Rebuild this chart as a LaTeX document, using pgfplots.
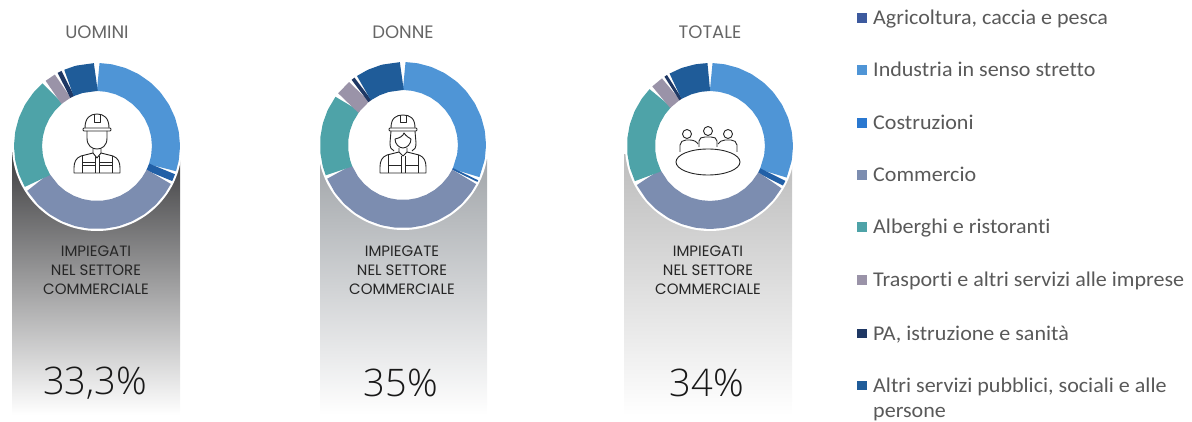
\documentclass[border=0pt]{standalone}
\usepackage{fontspec}
\usepackage{pgfplots}
\usepgfplotslibrary{polar}
\pgfplotsset{compat=1.18}
\setmainfont{Carlito}[FakeStretch=1.05,Ligatures=NoCommon]
\newfontfamily\headfont{Poppins}
\newfontfamily\numfont{Open Sans Light}
\definecolor{cAgri}{HTML}{3D5A9E}
\definecolor{cInd}{HTML}{4F95D6}
\definecolor{cCos}{HTML}{2A78D0}
\definecolor{cCom}{HTML}{7C8DB0}
\definecolor{cAlb}{HTML}{4EA3A8}
\definecolor{cTra}{HTML}{9A93A8}
\definecolor{cPA}{HTML}{1F3864}
\definecolor{cAlt}{HTML}{1F5C99}
\definecolor{gU1}{HTML}{3C3C3E}
\definecolor{gU2}{HTML}{9A9C9F}
\definecolor{gD1}{HTML}{A2A6AA}
\definecolor{gD2}{HTML}{CCD0D4}
\definecolor{gT1}{HTML}{BDBDBD}
\definecolor{gT2}{HTML}{DEDEDE}
\pgfplotsset{donut/.style={scale only axis,width=166pt,height=166pt,xmin=0,xmax=360,ymin=0,ymax=83,
  hide axis,clip=false,anchor=center,x filter/.expression={90-x},
  every axis plot/.append style={no markers,line width=28pt,line join=round,line cap=butt}}}
\begin{document}
\begin{tikzpicture}[x=1pt,y=-1pt]
\path[use as bounding box] (0,0) rectangle (1192,422);
% backgrounds
\fill[top color=gU1,middle color=gU2,bottom color=white] (12,150) rectangle (180,415);
\fill[top color=gD1,middle color=gD2,bottom color=white] (320,160) rectangle (487,415);
\fill[top color=gT1,middle color=gT2,bottom color=white] (624,155) rectangle (792,415);
\fill[white] (97,146) circle (85);
\fill[white] (403,145) circle (85);
\fill[white] (710,146) circle (85);
% UOMINI
\begin{polaraxis}[donut,at={(97pt,-146pt)}]
\addplot[cInd] coordinates {(1,69)(10,69)(20,69)(30,69)(40,69)(50,69)(60,69)(70,69)(80,69)(90,69)(100,69)(108.4,69)};
\addplot[cCos!80!black] coordinates {(109.4,69)(115.5,69)};
\addplot[cCom] coordinates {(116.5,69)(125,69)(135,69)(145,69)(155,69)(165,69)(175,69)(185,69)(195,69)(205,69)(215,69)(225,69)(238.4,69)};
\addplot[cAlb] coordinates {(239.6,69)(250,69)(260,69)(270,69)(280,69)(290,69)(300,69)(310,69)(319.8,69)};
\addplot[cTra] coordinates {(321,69)(330.2,69)};
\addplot[cPA] coordinates {(331.4,69)(335,69)};
\addplot[cAlt] coordinates {(336,69)(345,69)(359,69)};
\end{polaraxis}
% DONNE
\begin{polaraxis}[donut,at={(403pt,-145pt)}]
\addplot[cInd] coordinates {(1,69)(10,69)(20,69)(30,69)(40,69)(50,69)(60,69)(70,69)(80,69)(90,69)(100,69)(114,69)};
\addplot[cCos!80!black] coordinates {(115,69)(116.5,69)};
\addplot[cCom] coordinates {(117.5,69)(125,69)(135,69)(145,69)(155,69)(165,69)(175,69)(185,69)(195,69)(205,69)(215,69)(225,69)(235,69)(247,69)};
\addplot[cAlb] coordinates {(248,69)(255,69)(265,69)(275,69)(285,69)(295,69)(306.5,69)};
\addplot[cTra] coordinates {(307.5,69)(320.5,69)};
\addplot[cPA] coordinates {(321.5,69)(324.5,69)};
\addplot[cAlt] coordinates {(325.5,69)(335,69)(345,69)(359,69)};
\end{polaraxis}
% TOTALE
\begin{polaraxis}[donut,at={(710pt,-146pt)}]
\addplot[cInd] coordinates {(1,69)(10,69)(20,69)(30,69)(40,69)(50,69)(60,69)(70,69)(80,69)(90,69)(100,69)(113.5,69)};
\addplot[cCos!80!black] coordinates {(114.5,69)(118.8,69)};
\addplot[cCom] coordinates {(119.8,69)(130,69)(140,69)(150,69)(160,69)(170,69)(180,69)(190,69)(200,69)(210,69)(220,69)(230,69)(243,69)};
\addplot[cAlb] coordinates {(244,69)(255,69)(265,69)(275,69)(285,69)(295,69)(305,69)(314,69)};
\addplot[cTra] coordinates {(315,69)(325.5,69)};
\addplot[cPA] coordinates {(326.5,69)(329,69)};
\addplot[cAlt] coordinates {(330,69)(340,69)(350,69)(359,69)};
\end{polaraxis}
% icons
\begin{scope}[shift={(97,146)},line width=0.9pt,black!85,line join=round]
\draw (-12,-18) .. controls (-12,-28) and (-7,-32) .. (0,-32) .. controls (7,-32) and (12,-28) .. (12,-18);
\draw[rounded corners=1] (-14,-18) rectangle (14,-15);
\draw (-3,-32) -- (-3,-24) -- (3,-24) -- (3,-32);
\draw (-10,-15) -- (-10,-8) .. controls (-10,0) and (-5,3) .. (0,3) .. controls (5,3) and (10,0) .. (10,-8) -- (10,-15);
\draw (-4,3) -- (-4,7) -- (0,12) -- (4,7) -- (4,3);
\draw (-4,7) -- (-16,10) .. controls (-21,12) and (-23,16) .. (-23,22) -- (-23,27) -- (23,27) -- (23,22) .. controls (23,16) and (21,12) .. (16,10) -- (4,7);
\draw (-15,10) -- (-15,27) (15,10) -- (15,27) (-2,10) -- (-2,27) (2,10) -- (2,27);
\draw (-15,16) -- (-2,16) (-15,19) -- (-2,19) (2,16) -- (15,16) (2,19) -- (15,19);
\end{scope}
\begin{scope}[shift={(403,145)},line width=0.9pt,black!85,line join=round]
\draw (-12,-17) .. controls (-12,-27) and (-7,-30) .. (0,-30) .. controls (7,-30) and (12,-27) .. (12,-17);
\draw[rounded corners=1] (-14,-17) rectangle (14,-14);
\draw (-3,-30) -- (-3,-23) -- (3,-23) -- (3,-30);
\draw (-12,-14) -- (-13,-2) .. controls (-13,2) and (-12,5) .. (-9,6);
\draw (12,-14) -- (13,-2) .. controls (13,2) and (12,5) .. (9,6);
\draw (-8,-6) .. controls (-3,-7) and (0,-9) .. (1,-12) .. controls (3,-9) and (6,-7) .. (8,-6);
\draw (-8,-6) .. controls (-8,-1) and (-4,3) .. (0,3) .. controls (4,3) and (8,-1) .. (8,-6);
\draw (-4,3) -- (-4,7) -- (0,11) -- (4,7) -- (4,3);
\draw (-4,7) -- (-16,10) .. controls (-21,12) and (-23,16) .. (-23,22) -- (-23,28) -- (23,28) -- (23,22) .. controls (23,16) and (21,12) .. (16,10) -- (4,7);
\draw (-15,10) -- (-15,28) (15,10) -- (15,28) (-2,11) -- (-2,28) (2,11) -- (2,28);
\draw (-15,20) -- (-2,20) (2,20) -- (15,20);
\end{scope}
\begin{scope}[shift={(710,146)},line width=0.9pt,black!85,line join=round]
\draw (-23,-12) circle (4.5) (-2,-15) circle (4.5) (18,-12) circle (4.5);
\draw (-11,1) -- (-11,-5) .. controls (-11,-8) and (-8,-9) .. (-5,-9) -- (1,-9) .. controls (4,-9) and (7,-8) .. (7,-5) -- (7,1);
\draw (-30,6) -- (-30,-1) .. controls (-30,-4) and (-27,-6) .. (-24,-6) -- (-20,-6) .. controls (-16,-6) and (-13,-4) .. (-12,-2);
\draw (27,6) -- (27,-1) .. controls (27,-4) and (24,-6) .. (21,-6) -- (15,-6) .. controls (12,-6) and (9,-4) .. (8,-2);
\draw (-2,16) ellipse (32 and 13);
\end{scope}
% heads
\foreach \x/\t in {97/UOMINI,403/DONNE,710/TOTALE}
  \node[text=black!60,font=\headfont\fontsize{18}{20}\selectfont] at (\x,32) {\t};
\foreach \x/\t in {96/IMPIEGATI,402/IMPIEGATE,708/IMPIEGATI}
  \node[text=black!85,align=center,font=\headfont\fontsize{15}{19}\selectfont,anchor=north] at (\x,242) {\t\\NEL SETTORE\\COMMERCIALE};
\foreach \x/\t in {95/{33,3\%},401/{35\%},707/{34\%}}
  \node[text=black!90,font=\numfont\fontsize{38}{40}\selectfont] at (\x,383) {\t};
% legend
\foreach \c/\y/\t in {cAgri/25/{Agricoltura, caccia e pesca},cInd/77/{Industria in senso stretto},cCos/130/Costruzioni,cCom/182/Commercio,cAlb/234/{Alberghi e ristoranti},cTra/287/{Trasporti e altri servizi alle imprese},cPA/340/{PA, istruzione e sanità},cAlt/392/{Altri servizi pubblici, sociali e alle}}{
  \fill[\c] (857,\y-11.5) rectangle ++(9.5,9.5);
  \node[anchor=base west,inner sep=0pt,text=black!65,font=\fontsize{21}{22}\selectfont] at (873,\y) {\t};
}
\node[anchor=base west,inner sep=0pt,text=black!65,font=\fontsize{21}{22}\selectfont] at (873,417) {persone};
\end{tikzpicture}
\end{document}
